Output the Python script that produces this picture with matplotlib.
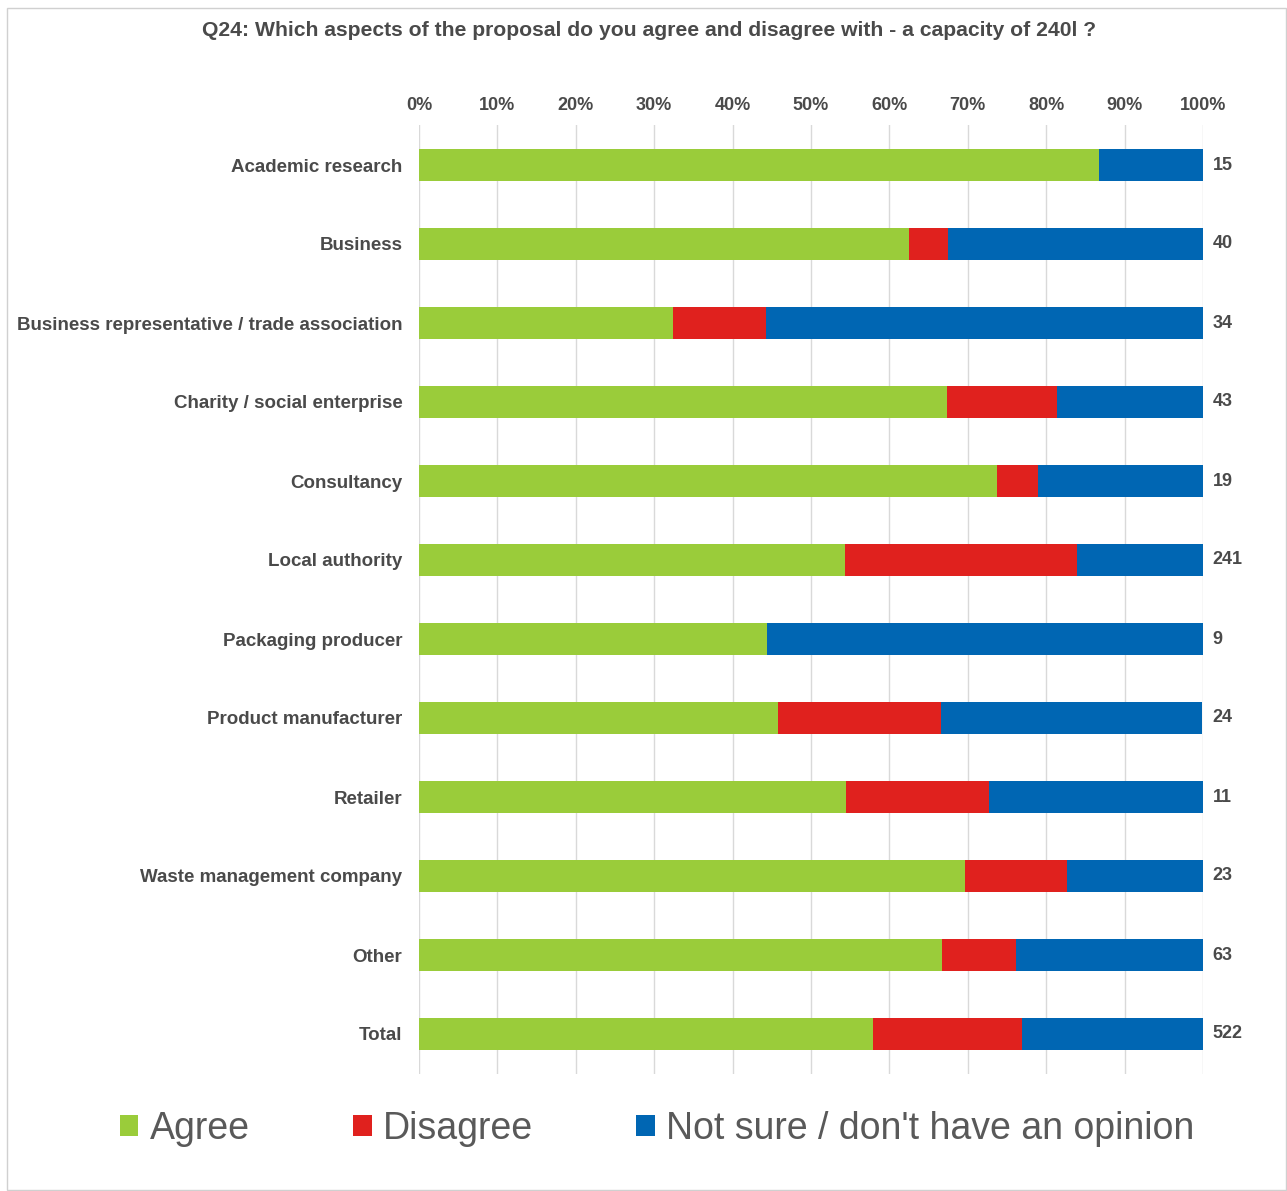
import matplotlib
matplotlib.use("Agg")
import matplotlib.pyplot as plt
from matplotlib.patches import Patch, Rectangle
import numpy as np

categories = ["Academic research", "Business", "Business representative / trade association",
              "Charity / social enterprise", "Consultancy", "Local authority",
              "Packaging producer", "Product manufacturer", "Retailer",
              "Waste management company", "Other", "Total"]
agree = [86.7, 62.5, 32.4, 67.4, 73.7, 54.4, 44.4, 45.8, 54.5, 69.6, 66.7, 57.9]
disagree = [0.0, 5.0, 11.8, 14.0, 5.3, 29.5, 0.0, 20.8, 18.2, 13.0, 9.5, 19.0]
not_sure = [13.3, 32.5, 55.9, 18.6, 21.1, 16.2, 55.6, 33.3, 27.3, 17.4, 23.8, 23.2]
counts = [15, 40, 34, 43, 19, 241, 9, 24, 11, 23, 63, 522]
ticks = list(range(0, 101, 10))
tick_labels = [f"{t}%" for t in ticks]
series_names = ["Agree", "Disagree", "Not sure / don't have an opinion"]
colors = ["#9ACC3A", "#E0211E", "#0066B3"]

plt.rcParams['font.family'] = ['Liberation Sans', 'DejaVu Sans']
W, H = 1287, 1191
fig = plt.figure(figsize=(W/100, H/100), dpi=100)
ax = fig.add_axes([419/W, 1-1073.5/H, (1203-419)/W, (1073.5-125.5)/H])

txt = '#4A4A4A'
y = np.arange(len(categories))
a = np.array(agree); d = np.array(disagree); n = np.array(not_sure)
ax.barh(y, a, height=0.41, color=colors[0], zorder=3)
ax.barh(y, d, left=a, height=0.41, color=colors[1], zorder=3)
ax.barh(y, n, left=a+d, height=0.41, color=colors[2], zorder=3)

ax.set_xlim(0, 100)
ax.set_ylim(len(categories)-0.5, -0.5)
ax.set_xticks(ticks)
ax.set_xticklabels(tick_labels, fontsize=13, fontweight='bold', color=txt)
ax.xaxis.tick_top()
ax.tick_params(axis='x', length=0, pad=8)
ax.set_yticks(y)
ax.set_yticklabels(categories, fontsize=13.5, fontweight='bold', color=txt)
ax.tick_params(axis='y', length=0, pad=12)
ax.grid(axis='x', color='#D9D9D9', linewidth=1, zorder=0)
for s in ax.spines.values():
    s.set_visible(False)

for yi, c in zip(y, counts):
    ax.text(101.2, yi, str(c), va='center', ha='left', fontsize=13,
            fontweight='bold', color=txt)

fig.text(649/W, 1-31/H, "Q24: Which aspects of the proposal do you agree and disagree with - a capacity of 240l ?",
         ha='center', va='center', fontsize=15.2, fontweight='bold', color=txt)

handles = [Patch(facecolor=c, edgecolor='none') for c in colors]
leg = fig.legend(handles, series_names, loc='center', bbox_to_anchor=(657/W, 1-1129/H),
                 ncol=3, frameon=False, fontsize=27, handlelength=0.5, handleheight=0.5,
                 handletextpad=0.3, columnspacing=2.75, labelcolor='#595959')

fig.patches.append(Rectangle((7/W, 1-1190/H), 1279/W, 1182/H, transform=fig.transFigure,
                             fill=False, edgecolor='#D0D0D0', linewidth=1))

fig.savefig("out.png", dpi=100)
